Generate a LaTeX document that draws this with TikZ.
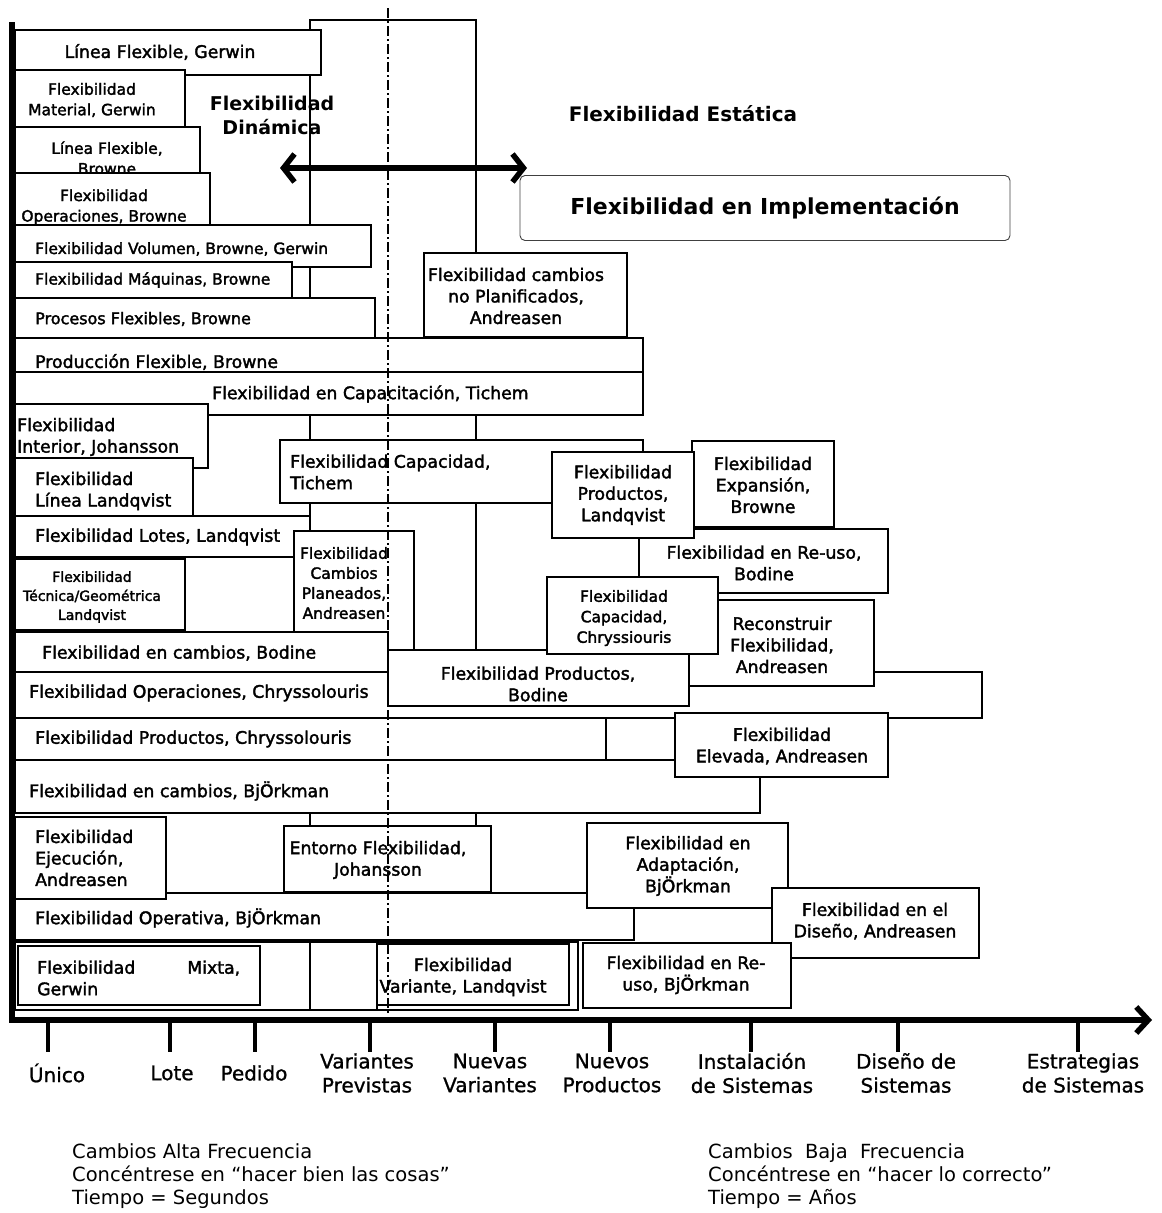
\documentclass[tikz,border=0pt]{standalone}
\usepackage{fontspec}
\setmainfont{DejaVu Sans}
\newfontfamily\gruesa{DejaVu Sans}[FakeBold=2]
\newfontfamily\media{DejaVu Sans}[FakeBold=1]
\usetikzlibrary{arrows.meta}

\newcommand{\fnorm}{\gruesa\fontsize{17.3}{21.5}\selectfont}
\newcommand{\fchico}{\gruesa\fontsize{15.5}{20.5}\selectfont}
\newcommand{\fmini}{\gruesa\fontsize{14}{19}\selectfont}

\tikzset{
  caja/.style={draw=black, fill=white, line width=1.9pt},
  fondo/.style={draw=black, line width=1.4pt},
  txt/.style={font=\fnorm, align=center, inner sep=0pt},
  txtizq/.style={font=\fnorm, align=left, anchor=west, inner sep=0pt},
  titulo/.style={font=\fontsize{19}{24}\selectfont\bfseries, align=center, inner sep=0pt},
  etiq/.style={font=\media\fontsize{20}{24}\selectfont, align=center, inner sep=0pt},
  nota/.style={font=\fontsize{19.5}{23}\selectfont, align=left, anchor=west, inner sep=0pt},
  eje/.style={line width=5.5pt},
  marca/.style={line width=3.5pt},
  guion/.style={line width=1.8pt, dash pattern=on 10pt off 3pt on 2pt off 3pt}
}

\begin{document}
\begin{tikzpicture}[x=1pt,y=-1pt]
\useasboundingbox (0,0) rectangle (1162,1213);

% marco de fondo
\draw[fondo] (310,20) rectangle (476,1010);

% columna izquierda, arriba
\draw[caja] (15,30) rectangle (321,75);
\node[txt] (lfg) at (160,52) {Línea Flexible, Gerwin};
\draw[caja] (15,70) rectangle (185,127);
\node[txt,font=\fchico] (fmg) at (92,100) {Flexibilidad\\Material, Gerwin};
\draw[caja] (15,127) rectangle (200,173);
\node[txt,font=\fchico] (lfb) at (107,158) {Línea Flexible,\\Browne};
\draw[caja] (15,173) rectangle (210,232);
\node[txt,font=\fchico] (fob) at (104,207) {Flexibilidad\\Operaciones, Browne};
\draw[caja] (15,225) rectangle (371,267);
\node[txtizq,font=\fchico] (fvb) at (35,249) {Flexibilidad Volumen, Browne, Gerwin};
\draw[caja] (15,262) rectangle (292,298);
\node[txtizq,font=\fchico] (fmb) at (35,280) {Flexibilidad Máquinas, Browne};
\draw[caja] (15,298) rectangle (375,338);
\node[txtizq,font=\gruesa\fontsize{16}{20}\selectfont] (pfb) at (35,319) {Procesos Flexibles, Browne};

% derecha, arriba
\draw[caja] (424,253) rectangle (627,337);
\node[txt] (fnp) at (516,296) {Flexibilidad cambios\\no Planificados,\\Andreasen};

\draw[caja] (15,338) rectangle (643,372);
\node[txtizq] (prb) at (35,362) {Producción Flexible, Browne};
\draw[caja] (15,372) rectangle (643,415);
\node[txtizq] (fct) at (212,394) {Flexibilidad en Capacitación, Tichem};
\draw[caja] (15,404) rectangle (208,468);
\node[txtizq] (fij) at (17,437) {Flexibilidad\\Interior, Johansson};
\draw[caja] (15,458) rectangle (193,516);
\node[txtizq] (fll) at (35,491) {Flexibilidad\\Línea Landqvist};

% bloque central
\draw[caja] (280,440) rectangle (643,503);
\node[txtizq] (fcap) at (290,472) {Flexibilidad Capacidad,\\Tichem};
\draw[caja] (692,441) rectangle (834,527);
\node[txt] (feb) at (763,485) {Flexibilidad\\Expansión,\\Browne};
\draw[caja] (639,529) rectangle (888,593);
\node[txt] (frb) at (764,563) {Flexibilidad en Re-uso,\\Bodine};
\draw[caja] (552,452) rectangle (694,538);
\node[txt] (fpl) at (623,495) {Flexibilidad\\Productos,\\Landqvist};

\draw[caja] (15,516) rectangle (310,557);
\node[txtizq] (flo) at (35,537) {Flexibilidad Lotes, Landqvist};
\draw[caja] (15,557) rectangle (300,632);
\draw[caja] (15,559) rectangle (185,630);
\node[txt,font=\fmini] (ftg) at (92,597) {Flexibilidad\\Técnica/Geométrica\\Landqvist};
\draw[caja] (294,531) rectangle (414,652);
\node[txt,font=\gruesa\fontsize{15.5}{20}\selectfont] (fcp) at (344,583) {Flexibilidad\\Cambios\\Planeados,\\Andreasen};

\draw[caja] (15,632) rectangle (388,673);
\node[txtizq] (fcb) at (42,653) {Flexibilidad en cambios, Bodine};
\draw[caja] (15,672) rectangle (982,718);
\node[txtizq] (foc) at (29,693) {Flexibilidad Operaciones, Chryssolouris};
\draw[caja] (680,600) rectangle (874,686);
\node[txt] (rfa) at (782,645) {Reconstruir\\Flexibilidad,\\Andreasen};
\draw[caja] (388,650) rectangle (689,706);
\node[txt] (fpb) at (538,684) {Flexibilidad Productos,\\Bodine};
\draw[caja] (547,577) rectangle (718,654);
\node[txt,font=\fchico] (fcc) at (624,618) {Flexibilidad\\Capacidad,\\Chryssiouris};

% filas de abajo
\draw[caja] (15,718) rectangle (606,760);
\draw[caja] (606,718) rectangle (690,760);
\node[txtizq] (fpc) at (35,739) {Flexibilidad Productos, Chryssolouris};
\draw[caja] (15,760) rectangle (760,813);
\node[txtizq] (fcbj) at (29,791) {Flexibilidad en cambios, BjÖrkman};
\draw[caja] (675,713) rectangle (888,777);
\node[txt] (fea) at (782,746) {Flexibilidad\\Elevada, Andreasen};
\draw[caja] (15,893) rectangle (634,940);
\node[txtizq] (fobj) at (35,918) {Flexibilidad Operativa, BjÖrkman};
\draw[caja] (15,817) rectangle (166,899);
\node[txtizq] (fej) at (35,858) {Flexibilidad\\Ejecución,\\Andreasen};
\draw[caja] (284,826) rectangle (491,892);
\node[txt] (efj) at (378,860) {Entorno Flexibilidad,\\Johansson};
\draw[caja] (587,823) rectangle (788,908);
\node[txt] (fab) at (688,866) {Flexibilidad en\\Adaptación,\\BjÖrkman};
\draw[caja] (772,888) rectangle (979,958);
\node[txt] (fda) at (875,921) {Flexibilidad en el\\Diseño, Andreasen};

\draw[caja] (15,942) rectangle (578,1010);
\draw[caja] (18,946) rectangle (260,1005);
\node[txtizq] (fmx) at (37,978) {Flexibilidad\hspace*{52pt}Mixta,\\Gerwin};
\draw[caja] (310,942) rectangle (377,1010);
\draw[caja] (377,944) rectangle (569,1005);
\node[txt] (fvl) at (463,977) {Flexibilidad\\Variante, Landqvist};
\draw[caja] (583,943) rectangle (791,1008);
\node[txt] (frbj) at (686,975) {Flexibilidad en Re-\\uso, BjÖrkman};

% titulos
\node[titulo] (dinamica) at (272,115) {Flexibilidad\\Dinámica};
\node[titulo,font=\fontsize{20}{24}\selectfont\bfseries] (estatica) at (683,114) {Flexibilidad Estática};
\node[draw=black!75, line width=0.9pt, rounded corners=5pt, minimum width=490pt, minimum height=65pt,
      font=\fontsize{22}{26}\selectfont\bfseries] (impl) at (765,208) {Flexibilidad en Implementación};
\coordinate (fizq) at (280,168);
\coordinate (fder) at (527,168);
\draw[line width=5.5pt, {Straight Barb[length=11pt,width=28pt]}-{Straight Barb[length=11pt,width=28pt]}] (fizq) -- (fder);

% ejes
\coordinate (tope) at (12,22);
\coordinate (origen) at (12,1020);
\coordinate (fin) at (1152,1020);
\draw[eje, -{Straight Barb[length=12pt,width=26pt]}] (tope) -- (origen) -- (fin);

\foreach \x/\lx/\t [count=\i] in {48/57/Único, 170/172/Lote, 255/254/Pedido,
    370/367/{Variantes\\Previstas}, 495/490/{Nuevas\\Variantes}, 610/612/{Nuevos\\Productos},
    751/752/{Instalación\\de Sistemas}, 898/906/{Diseño de\\Sistemas}, 1078/1083/{Estrategias\\de Sistemas}}
{
  \draw[marca] (\x,1022) -- (\x,1052);
  \node[etiq] (et\i) at (\lx,1073) {\t};
}

% linea de division
\coordinate (div1) at (388,8);
\coordinate (div2) at (388,1015);
\draw[guion] (div1) -- (div2);

% notas
\node[nota] (alta) at (72,1176) {Cambios Alta Frecuencia\\Concéntrese en “hacer bien las cosas”\\Tiempo = Segundos};
\node[nota] (baja) at (708,1176) {Cambios\ \ Baja\ \ Frecuencia\\Concéntrese en “hacer lo correcto”\\Tiempo = Años};

\end{tikzpicture}
\end{document}
